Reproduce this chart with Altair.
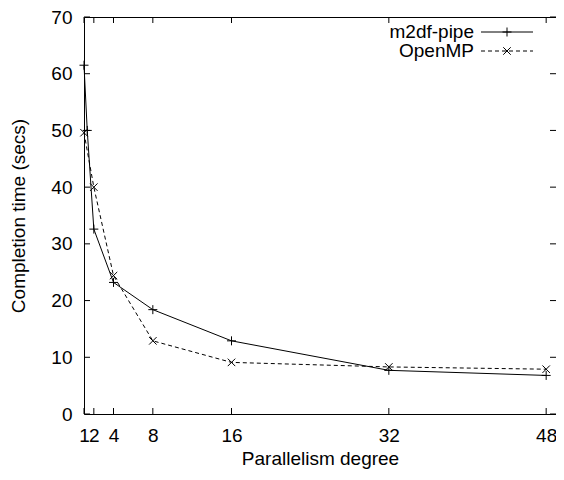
import altair as alt
import pandas as pd

# ---- data ----
x_ticks = [1, 2, 4, 8, 16, 32, 48]
y_ticks = [0, 10, 20, 30, 40, 50, 60, 70]

m2df_x = [1, 1.33, 2, 4, 8, 16, 32, 48]
m2df_y = [61.5, 50.0, 32.6, 23.2, 18.4, 12.9, 7.7, 6.8]

omp_x = [1, 2, 4, 8, 16, 32, 48]
omp_y = [49.6, 40.0, 24.4, 12.9, 9.1, 8.3, 7.9]

series_names = ["m2df-pipe", "OpenMP"]

W, H = 472, 397
FONT = "Liberation Sans"
FS = 19

PLUS = "M-1,0L1,0M0,-1L0,1"
CROSS = "M-1,-1L1,1M-1,1L1,-1"

df_m = pd.DataFrame({"x": m2df_x, "y": m2df_y})
df_o = pd.DataFrame({"x": omp_x, "y": omp_y})
xt = pd.DataFrame({"v": x_ticks})
yt = pd.DataFrame({"v": y_ticks})
one = pd.DataFrame({"a": [0]})

xscale = alt.Scale(domain=[1, 49], nice=False, zero=False)
yscale = alt.Scale(domain=[0, 70], nice=False)

xaxis = alt.Axis(values=x_ticks, ticks=False, domain=False, grid=False,
                 labelFontSize=FS, labelFont=FONT, labelColor="black",
                 labelPadding=12, labelFlush=False, labelOverlap=False,
                 title="Parallelism degree", titleFontSize=FS, titleFont=FONT,
                 titleFontWeight="normal", titleColor="black", titlePadding=4)
yaxis = alt.Axis(values=y_ticks, ticks=False, domain=False, grid=False,
                 labelFontSize=FS, labelFont=FONT, labelColor="black",
                 labelPadding=12, labelFlush=False, labelOverlap=False,
                 title="Completion time (secs)", titleFontSize=FS, titleFont=FONT,
                 titleFontWeight="normal", titleColor="black", titlePadding=22)

line_m = alt.Chart(df_m).mark_line(color="black", strokeWidth=1).encode(
    x=alt.X("x:Q", scale=xscale, axis=xaxis),
    y=alt.Y("y:Q", scale=yscale, axis=yaxis),
)
pts_m = alt.Chart(df_m).mark_point(shape=PLUS, size=81, filled=False,
                                   color="black", strokeWidth=1, opacity=1).encode(
    x=alt.X("x:Q", scale=xscale), y=alt.Y("y:Q", scale=yscale))

line_o = alt.Chart(df_o).mark_line(color="black", strokeWidth=1,
                                   strokeDash=[4, 3]).encode(
    x=alt.X("x:Q", scale=xscale), y=alt.Y("y:Q", scale=yscale))
pts_o = alt.Chart(df_o).mark_point(shape=CROSS, size=56, filled=False,
                                   color="black", strokeWidth=1, opacity=1).encode(
    x=alt.X("x:Q", scale=xscale), y=alt.Y("y:Q", scale=yscale))

# inward ticks on all four sides (gnuplot style)
tick_l = alt.Chart(yt).mark_rule(color="black", strokeWidth=1).encode(
    y=alt.Y("v:Q", scale=yscale), x=alt.value(0), x2=alt.value(6))
tick_r = alt.Chart(yt).mark_rule(color="black", strokeWidth=1).encode(
    y=alt.Y("v:Q", scale=yscale), x=alt.value(W - 6), x2=alt.value(W))
tick_b = alt.Chart(xt).mark_rule(color="black", strokeWidth=1).encode(
    x=alt.X("v:Q", scale=xscale), y=alt.value(H - 6), y2=alt.value(H))
tick_t = alt.Chart(xt).mark_rule(color="black", strokeWidth=1).encode(
    x=alt.X("v:Q", scale=xscale), y=alt.value(0), y2=alt.value(6))

# legend (gnuplot style: text then sample)
LX_TEXT, LX0, LX1 = W - 82, W - 75, W - 23
LY1, LY2 = 15, 34
leg = []
for name, ly, dash, shape, sz in [(series_names[0], LY1, None, PLUS, 81),
                                  (series_names[1], LY2, [4, 3], CROSS, 56)]:
    leg.append(alt.Chart(one).mark_text(text=name, align="right", baseline="middle",
                                        font=FONT, fontSize=FS, color="black").encode(
        x=alt.value(LX_TEXT), y=alt.value(ly)))
    rule_kw = dict(color="black", strokeWidth=1)
    if dash:
        rule_kw["strokeDash"] = dash
    leg.append(alt.Chart(one).mark_rule(**rule_kw).encode(
        x=alt.value(LX0), x2=alt.value(LX1), y=alt.value(ly)))
    leg.append(alt.Chart(one).mark_point(shape=shape, size=sz, filled=False,
                                         color="black", strokeWidth=1, opacity=1).encode(
        x=alt.value((LX0 + LX1) / 2), y=alt.value(ly)))

chart = alt.layer(line_m, line_o, pts_m, pts_o, tick_l, tick_r, tick_b, tick_t,
                  *leg).properties(
    width=W, height=H,
    autosize=alt.AutoSizeParams(type="none"),
    padding={"left": 76, "top": 9, "right": 0, "bottom": 58},
    background="white",
).configure_view(stroke="black", strokeWidth=1)

chart.save("out.html", embed_options={"renderer": "svg", "actions": False})
